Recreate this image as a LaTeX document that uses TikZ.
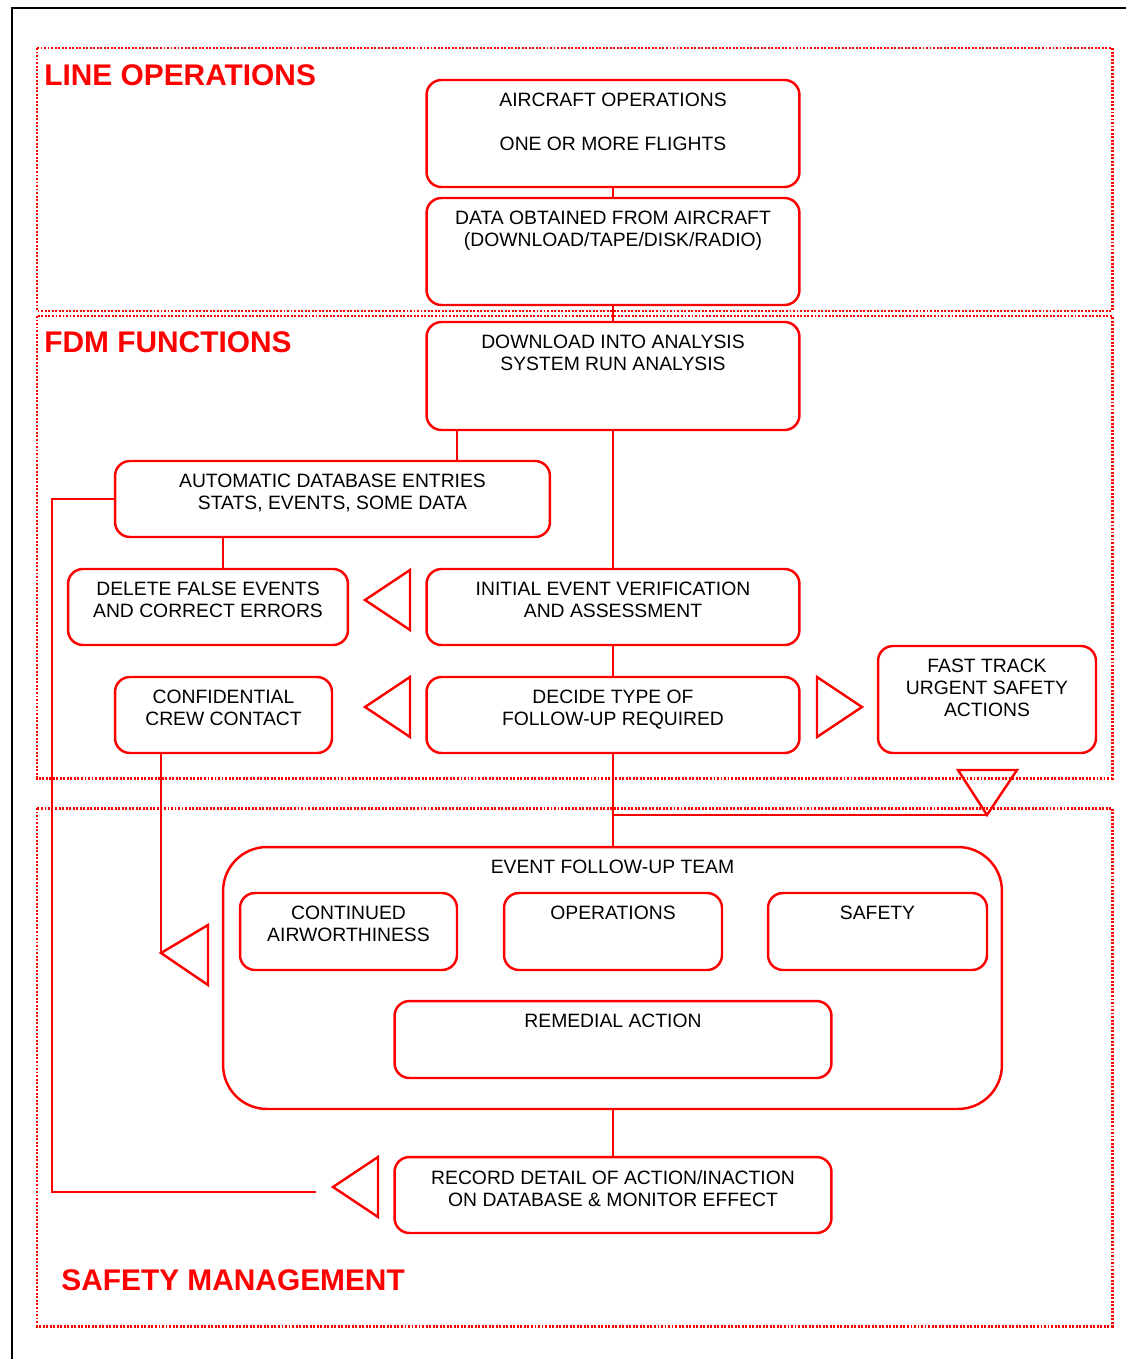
\documentclass[tikz,border=0pt]{standalone}
\usepackage{fontspec}
\setmainfont{Liberation Sans}
\usetikzlibrary{positioning}
\newcommand{\boxfont}{\fontsize{11}{12.5}\selectfont}
\newcommand{\areafont}{\fontsize{17}{20}\selectfont\bfseries}

\begin{document}
\begin{tikzpicture}[x=0.02cm,y=-0.02cm]
\tikzstyle{box} = [
	shape=rectangle,
	draw=red, %red border
	line width=1.4pt,
	rounded corners=8.5pt,
	inner sep=0pt
];
\tikzstyle{txt} = [anchor=north, align=center, inner sep=0pt, yshift=-8pt, font=\boxfont, text=black];
\tikzstyle{area} = [draw=red, line width=1.7pt, dash pattern=on 1.1pt off 0.9pt];
\tikzstyle{areatitle} = [anchor=base west, inner sep=0pt, font=\areafont, text=red];
\tikzstyle{link} = [draw=red, line width=1.3pt];
\tikzstyle{tri} = [draw=red, line width=1.4pt, line join=miter];

\useasboundingbox (0,0) rectangle (1126,1359);

%page frame
\draw[black, line width=1.2pt] (12,1359) -- (12,8) -- (1126,8);

%areas
\draw[area] (37,48) rectangle (1112,311);
\draw[area] (37,316) rectangle (1112,778);
\draw[area] (37,808) rectangle (1112,1326);
\node[areatitle] (lineops) at (44,85) {LINE OPERATIONS};
\node[areatitle] (fdm) at (44,352) {FDM FUNCTIONS};
\node[areatitle] (safman) at (61,1290) {SAFETY MANAGEMENT};

%line operations
\node[box, minimum width=7.46cm, minimum height=2.14cm,
	label={[txt]north:AIRCRAFT OPERATIONS\\[12.5pt]ONE OR MORE FLIGHTS}] (ao) at (613,133.5) {};
\node[box, minimum width=7.46cm, minimum height=2.14cm,
	label={[txt]north:DATA OBTAINED FROM AIRCRAFT\\(DOWNLOAD/TAPE/DISK/RADIO)}] (doa) at (613,251.5) {};

%fdm functions
\node[box, minimum width=7.46cm, minimum height=2.16cm,
	label={[txt]north:DOWNLOAD INTO ANALYSIS\\SYSTEM RUN ANALYSIS}] (dia) at (613,376) {};
\node[box, minimum width=8.7cm, minimum height=1.52cm,
	label={[txt]north:{AUTOMATIC DATABASE ENTRIES\\STATS, EVENTS, SOME DATA}}] (ade) at (332.5,499) {};
\node[box, minimum width=5.6cm, minimum height=1.52cm,
	label={[txt]north:DELETE FALSE EVENTS\\AND CORRECT ERRORS}] (dfe) at (208,607) {};
\node[box, minimum width=7.46cm, minimum height=1.52cm,
	label={[txt]north:INITIAL EVENT VERIFICATION\\AND ASSESSMENT}] (iev) at (613,607) {};
\node[box, minimum width=4.34cm, minimum height=1.52cm,
	label={[txt]north:CONFIDENTIAL\\CREW CONTACT}] (ccc) at (223.5,715) {};
\node[box, minimum width=7.46cm, minimum height=1.52cm,
	label={[txt]north:DECIDE TYPE OF\\FOLLOW-UP REQUIRED}] (dtf) at (613,715) {};
\node[box, minimum width=4.36cm, minimum height=2.14cm,
	label={[txt]north:FAST TRACK\\URGENT SAFETY\\ACTIONS}] (ftu) at (987,699.5) {};

%safety management
\node[box, rounded corners=25pt, minimum width=15.58cm, minimum height=5.24cm,
	label={[txt]north:EVENT FOLLOW-UP TEAM}] (eft) at (612.5,978) {};
\node[box, minimum width=4.34cm, minimum height=1.54cm,
	label={[txt]north:CONTINUED\\AIRWORTHINESS}] (cair) at (348.5,931.5) {};
\node[box, minimum width=4.36cm, minimum height=1.54cm,
	label={[txt]north:OPERATIONS}] (ops) at (613,931.5) {};
\node[box, minimum width=4.38cm, minimum height=1.54cm,
	label={[txt]north:SAFETY}] (saf) at (877.5,931.5) {};
\node[box, minimum width=8.74cm, minimum height=1.54cm,
	label={[txt]north:REMEDIAL ACTION}] (rem) at (613,1039.5) {};
\node[box, minimum width=8.74cm, minimum height=1.52cm,
	label={[txt]north:RECORD DETAIL OF ACTION/INACTION\\ON DATABASE \& MONITOR EFFECT}] (rec) at (613,1195) {};

\coordinate (xade) at (457,0);
\coordinate (xdfe) at (223,0);
\coordinate (xfb) at (52,0);
\coordinate (fttip) at (987,815);
\coordinate (cctip) at (161,953);
\coordinate (rcend) at (316,1192);

%main flow
\draw[link]
	(ao.south) -- (doa.north)
	(doa.south) -- (dia.north)
	(dia.south) -- (iev.north)
	(iev.south) -- (dtf.north)
	(dtf.south) -- (dtf.south |- eft.north)
	(eft.south -| rec.north) -- (rec.north)
;

%side branches
\draw[link]
	(dia.south -| xade) -- (ade.north -| xade)
	(ade.south -| xdfe) -- (dfe.north -| xdfe)
	(fttip) -- (fttip -| dtf.south)
	(ccc.south -| cctip) -- (cctip)
;

%feedback to database
\draw[link] (rcend) -| (ade.west -| xfb) -- (ade.west);

%open arrowheads
\draw[tri] (365,600) -- (410,570) -- (410,630) -- cycle;
\draw[tri] (365,707) -- (410,677) -- (410,737) -- cycle;
\draw[tri] (862,707) -- (817,677) -- (817,737) -- cycle;
\draw[tri] (fttip) -- (958,770) -- (1017,770) -- cycle;
\draw[tri] (cctip) -- (208,925) -- (208,985) -- cycle;
\draw[tri] (333,1187) -- (378,1157) -- (378,1217) -- cycle;

\end{tikzpicture}
\end{document}
